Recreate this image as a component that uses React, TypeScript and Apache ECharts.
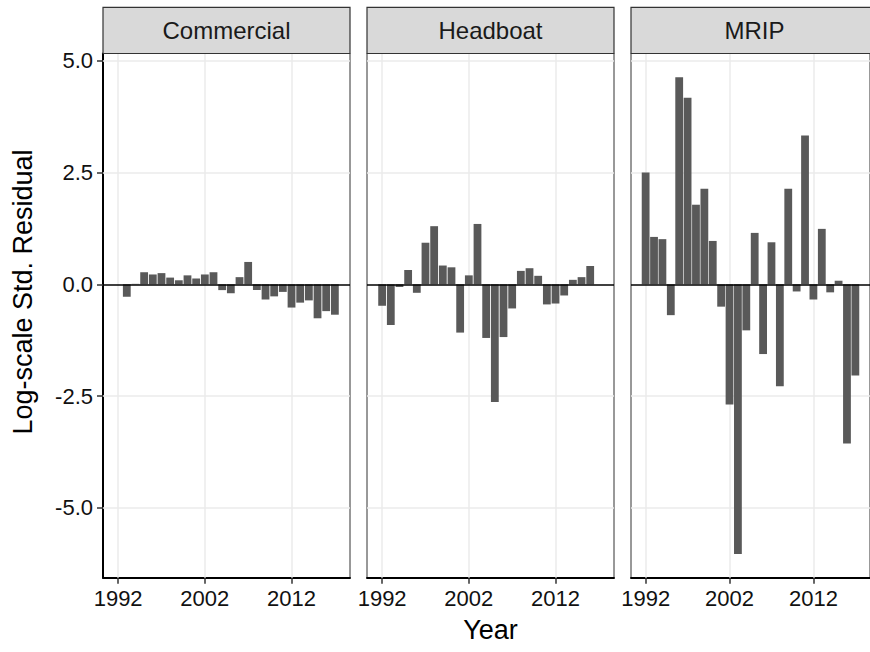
import React, { useEffect, useRef } from "react";
import * as echarts from "echarts";

const panelNames = ["Commercial", "Headboat", "MRIP"];

const commercialYears = [1993, 1994, 1995, 1996, 1997, 1998, 1999, 2000, 2001, 2002, 2003, 2004, 2005, 2006, 2007, 2008, 2009, 2010, 2011, 2012, 2013, 2014, 2015, 2016, 2017];
const commercialValues = [-0.28, 0.01, 0.27, 0.22, 0.25, 0.15, 0.09, 0.2, 0.13, 0.22, 0.27, -0.13, -0.2, 0.16, 0.5, -0.13, -0.34, -0.27, -0.17, -0.52, -0.41, -0.36, -0.76, -0.6, -0.68];

const headboatYears = [1992, 1993, 1994, 1995, 1996, 1997, 1998, 1999, 2000, 2001, 2002, 2003, 2004, 2005, 2006, 2007, 2008, 2009, 2010, 2011, 2012, 2013, 2014, 2015, 2016];
const headboatValues = [-0.48, -0.91, -0.06, 0.32, -0.19, 0.93, 1.3, 0.42, 0.38, -1.08, 0.2, 1.35, -1.2, -2.63, -1.18, -0.54, 0.3, 0.36, 0.19, -0.45, -0.43, -0.25, 0.1, 0.16, 0.41];

const mripYears = [1992, 1993, 1994, 1995, 1996, 1997, 1998, 1999, 2000, 2001, 2002, 2003, 2004, 2005, 2006, 2007, 2008, 2009, 2010, 2011, 2012, 2013, 2014, 2015, 2016, 2017];
const mripValues = [2.5, 1.06, 1.01, -0.69, 4.63, 4.17, 1.78, 2.14, 0.97, -0.5, -2.69, -6.03, -1.03, 1.15, -1.56, 0.94, -2.28, 2.14, -0.16, 3.33, -0.34, 1.24, -0.18, 0.08, -3.56, -2.04];

const xTicks = [1992, 2002, 2012];
const yTicks = [-5, -2.5, 0, 2.5, 5];

const xTitle = "Year";
const yTitle = "Log-scale Std. Residual";

const X_MIN = 1990.255;
const X_MAX = 2018.745;
const Y_MIN = -6.5625;
const Y_MAX = 5.1625;

const FONT = "'Liberation Sans', Arial, sans-serif";

export default function App() {
  const ref = useRef<HTMLDivElement>(null);
  useEffect(() => {
    document.body.style.margin = "0";
    if (!ref.current) return;
    const chart = echarts.init(ref.current, undefined, { renderer: "svg" });
    const panels = [
      { years: commercialYears, values: commercialValues },
      { years: headboatYears, values: headboatValues },
      { years: mripYears, values: mripValues },
    ];
    const lefts = [103, 367, 631];
    const top = 53.5;
    const width = 247;
    const height = 524.2;

    const grid = lefts.map((l) => ({
      left: l,
      top,
      width,
      height,
      show: true,
      backgroundColor: "#ffffff",
      borderColor: "#333333",
      borderWidth: 1,
    }));

    const xAxis = lefts.map((_, i) => ({
      type: "value",
      gridIndex: i,
      min: X_MIN,
      max: X_MAX,
      axisLine: { show: true, onZero: false, lineStyle: { color: "#000", width: 2 } },
      axisTick: { show: true, customValues: xTicks, length: 6, lineStyle: { color: "#333", width: 1.5 } },
      axisLabel: {
        show: true,
        customValues: xTicks,
        fontSize: 22,
        color: "#111",
        fontFamily: FONT,
        margin: 10,
        formatter: (v: number) => String(v),
      },
      splitLine: { show: false },
      name: i === 1 ? xTitle : "",
      nameLocation: "middle",
      nameGap: 39,
      nameTextStyle: { fontSize: 27, color: "#000", fontFamily: FONT },
    }));

    const yAxis = lefts.map((_, i) => ({
      type: "value",
      gridIndex: i,
      min: Y_MIN,
      max: Y_MAX,
      axisLine: { show: i === 0, onZero: false, lineStyle: { color: "#000", width: 2 } },
      axisTick: { show: i === 0, customValues: yTicks, length: 6, lineStyle: { color: "#333", width: 1.5 } },
      axisLabel: {
        show: i === 0,
        customValues: yTicks,
        fontSize: 22,
        color: "#111",
        fontFamily: FONT,
        margin: 10,
        formatter: (v: number) => v.toFixed(1),
      },
      splitLine: { show: false },
    }));

    const series: any[] = [];
    panels.forEach((p, i) => {
      series.push({
        type: "line",
        xAxisIndex: i,
        yAxisIndex: i,
        data: [],
        z: 1,
        silent: true,
        markLine: {
          silent: true,
          z: 1,
          symbol: ["none", "none"],
          label: { show: false },
          lineStyle: { color: "#ebebeb", width: 1.5, type: "solid" },
          data: [
            ...xTicks.map((v) => ({ xAxis: v })),
            ...yTicks.filter((v) => v !== 0).map((v) => ({ yAxis: v })),
          ],
        },
      });
      series.push({
        type: "bar",
        xAxisIndex: i,
        yAxisIndex: i,
        barWidth: 7.8,
        z: 2,
        itemStyle: { color: "#595959" },
        data: p.years.map((y, j) => [y, p.values[j]]),
        markLine: {
          silent: true,
          z: 5,
          symbol: ["none", "none"],
          label: { show: false },
          lineStyle: { color: "#000", width: 1.5, type: "solid" },
          data: [{ yAxis: 0 }],
        },
      });
    });

    const graphic: any[] = [];
    lefts.forEach((l, i) => {
      graphic.push({
        type: "rect",
        shape: { x: l, y: 7.3, width, height: 46.2 },
        style: { fill: "#d9d9d9", stroke: "#333333", lineWidth: 1.2 },
        z: 10,
      });
      graphic.push({
        type: "text",
        x: l + width / 2,
        y: 30.4,
        style: {
          text: panelNames[i],
          fontSize: 24,
          fontFamily: FONT,
          fill: "#1a1a1a",
          align: "center",
          verticalAlign: "middle",
          textAlign: "center",
          textVerticalAlign: "middle",
        },
        z: 11,
      });
    });
    graphic.push({
      type: "text",
      x: 23,
      y: 292,
      rotation: Math.PI / 2,
      style: {
        text: yTitle,
        fontSize: 27,
        fontFamily: FONT,
        fill: "#000",
        align: "center",
        verticalAlign: "middle",
        textAlign: "center",
        textVerticalAlign: "middle",
      },
      z: 11,
    });

    chart.setOption({
      animation: false,
      backgroundColor: "#ffffff",
      grid,
      xAxis,
      yAxis,
      series,
      graphic,
    });
    return () => chart.dispose();
  }, []);
  return <div ref={ref} style={{ width: 870, height: 652 }} />;
}
